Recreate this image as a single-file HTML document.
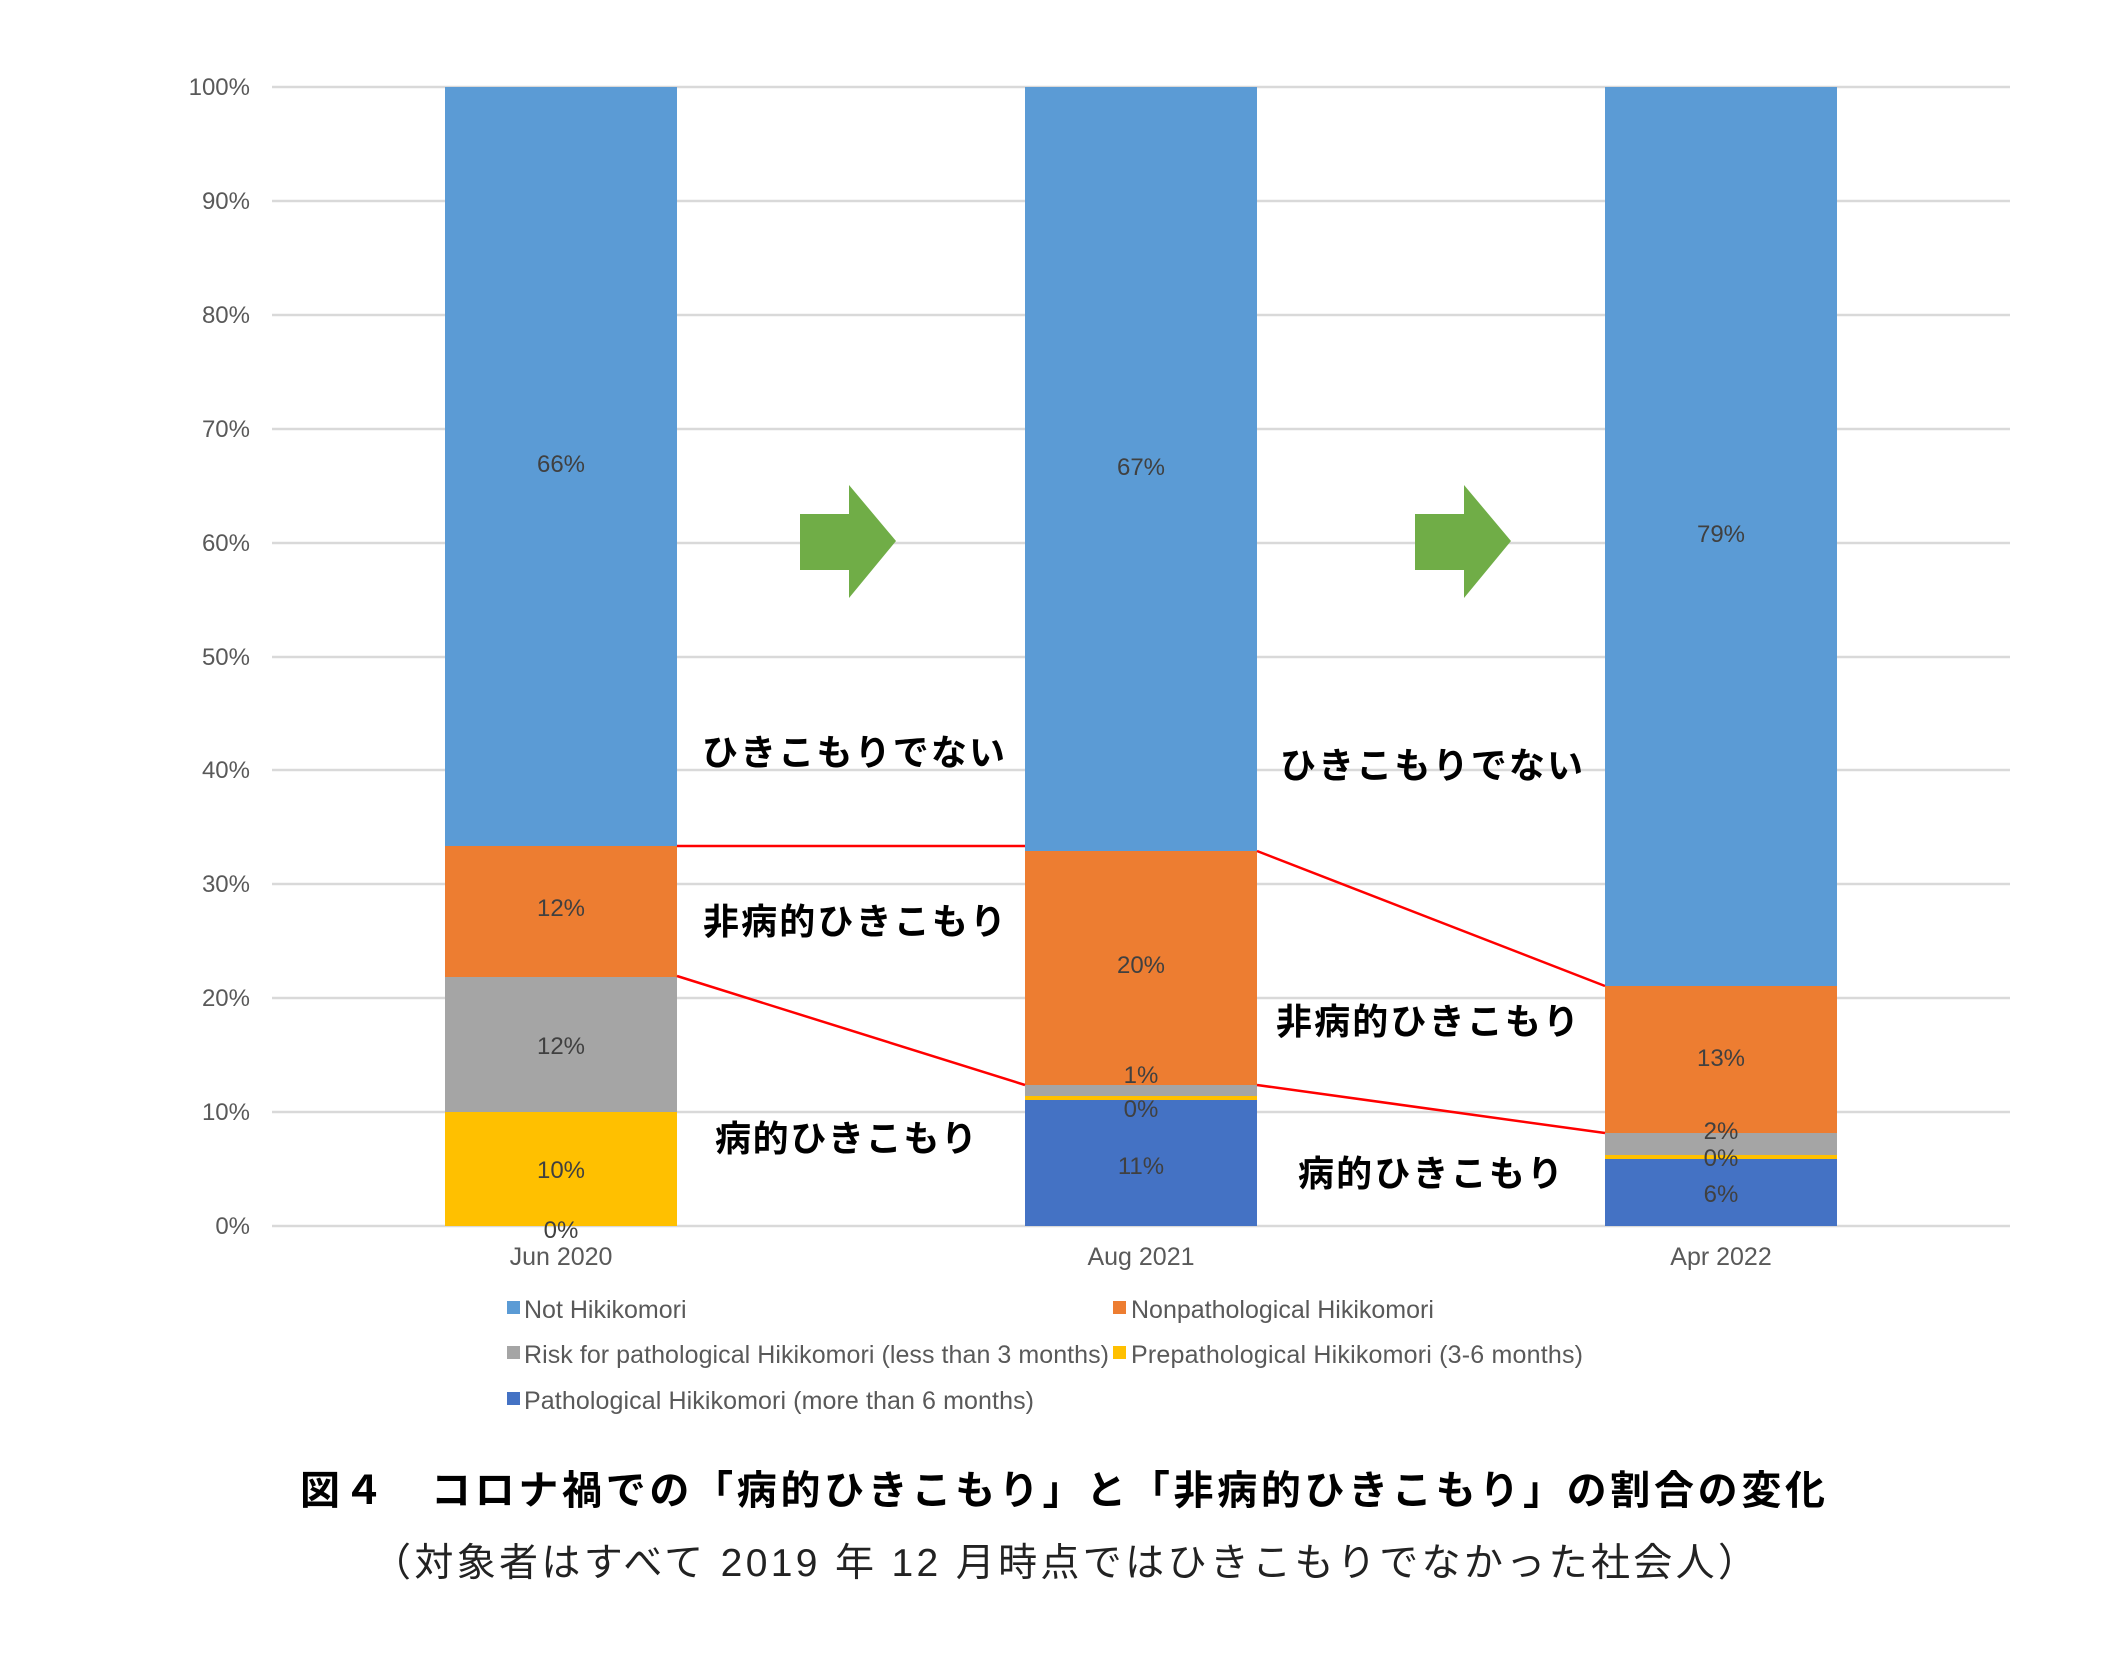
<!DOCTYPE html>
<html><head><meta charset="utf-8"><style>
html,body{margin:0;padding:0;background:#fff;}
svg{display:block;}
</style></head><body>
<svg width="2121" height="1675" viewBox="0 0 2121 1675" xmlns="http://www.w3.org/2000/svg">
<g stroke="#d9d9d9" stroke-width="2.5">
<line x1="272" y1="87" x2="2010" y2="87"/><line x1="272" y1="201" x2="2010" y2="201"/>
<line x1="272" y1="315" x2="2010" y2="315"/><line x1="272" y1="429" x2="2010" y2="429"/>
<line x1="272" y1="543" x2="2010" y2="543"/><line x1="272" y1="657" x2="2010" y2="657"/>
<line x1="272" y1="770" x2="2010" y2="770"/><line x1="272" y1="884" x2="2010" y2="884"/>
<line x1="272" y1="998" x2="2010" y2="998"/><line x1="272" y1="1112" x2="2010" y2="1112"/>
<line x1="272" y1="1226" x2="2010" y2="1226"/>
</g>
<g font-family="Liberation Sans, sans-serif" font-size="24" fill="#595959" text-anchor="end">
<text x="250" y="95">100%</text><text x="250" y="209">90%</text><text x="250" y="323">80%</text>
<text x="250" y="437">70%</text><text x="250" y="551">60%</text><text x="250" y="665">50%</text>
<text x="250" y="778">40%</text><text x="250" y="892">30%</text><text x="250" y="1006">20%</text>
<text x="250" y="1120">10%</text><text x="250" y="1234">0%</text>
</g>
<rect x="445" y="87" width="232" height="759" fill="#5B9BD5"/>
<rect x="445" y="846" width="232" height="131" fill="#ED7D31"/>
<rect x="445" y="977" width="232" height="135" fill="#A5A5A5"/>
<rect x="445" y="1112" width="232" height="114" fill="#FFC000"/>
<rect x="1025" y="87" width="232" height="764" fill="#5B9BD5"/>
<rect x="1025" y="851" width="232" height="234" fill="#ED7D31"/>
<rect x="1025" y="1085" width="232" height="11" fill="#A5A5A5"/>
<rect x="1025" y="1096" width="232" height="4" fill="#FFC000"/>
<rect x="1025" y="1100" width="232" height="126" fill="#4472C4"/>
<rect x="1605" y="87" width="232" height="899" fill="#5B9BD5"/>
<rect x="1605" y="986" width="232" height="147" fill="#ED7D31"/>
<rect x="1605" y="1133" width="232" height="22" fill="#A5A5A5"/>
<rect x="1605" y="1155" width="232" height="4" fill="#FFC000"/>
<rect x="1605" y="1159" width="232" height="67" fill="#4472C4"/>
<g stroke="#ff0000" stroke-width="2.5" fill="none">
<line x1="677" y1="846" x2="1025" y2="846"/>
<line x1="1257" y1="851" x2="1605" y2="986"/>
<line x1="677" y1="976" x2="1025" y2="1085"/>
<line x1="1257" y1="1085" x2="1605" y2="1133"/>
</g>
<polygon points="800,514 849,514 849,485 896,541 849,598 849,570 800,570" fill="#70AD47"/>
<polygon points="1415,514 1464,514 1464,485 1511,541 1464,598 1464,570 1415,570" fill="#70AD47"/>
<g font-family="Liberation Sans, sans-serif" font-size="24" fill="#404040" text-anchor="middle">
<text x="561" y="472">66%</text><text x="561" y="916">12%</text><text x="561" y="1054">12%</text>
<text x="561" y="1178">10%</text><text x="561" y="1238">0%</text>
<text x="1141" y="475">67%</text><text x="1141" y="973">20%</text><text x="1141" y="1083">1%</text>
<text x="1141" y="1117">0%</text><text x="1141" y="1174">11%</text>
<text x="1721" y="542">79%</text><text x="1721" y="1066">13%</text><text x="1721" y="1139">2%</text>
<text x="1721" y="1166">0%</text><text x="1721" y="1202">6%</text>
</g>
<g font-family="Liberation Sans, sans-serif" font-size="25" fill="#595959" text-anchor="middle">
<text x="561" y="1265">Jun 2020</text><text x="1141" y="1265">Aug 2021</text><text x="1721" y="1265">Apr 2022</text>
</g>
<g font-family="Liberation Sans, sans-serif" font-size="25" fill="#595959">
<rect x="507" y="1301" width="13" height="13" fill="#5B9BD5"/><text x="524" y="1318">Not Hikikomori</text>
<rect x="1113" y="1301" width="13" height="13" fill="#ED7D31"/><text x="1131" y="1318">Nonpathological Hikikomori</text>
<rect x="507" y="1346" width="13" height="13" fill="#A5A5A5"/><text x="524" y="1363" textLength="585">Risk for pathological Hikikomori (less than 3 months)</text>
<rect x="1113" y="1346" width="13" height="13" fill="#FFC000"/><text x="1131" y="1363" textLength="452">Prepathological Hikikomori (3-6 months)</text>
<rect x="507" y="1392" width="13" height="13" fill="#4472C4"/><text x="524" y="1409" textLength="510">Pathological Hikikomori (more than 6 months)</text>
</g>
<g font-family="Liberation Sans, 'Noto Sans CJK JP', sans-serif" font-size="36" font-weight="bold" fill="#000" letter-spacing="3">
<text x="702" y="765" textLength="306">ひきこもりでない</text>
<text x="1280" y="778" textLength="306">ひきこもりでない</text>
<text x="703" y="934" textLength="306">非病的ひきこもり</text>
<text x="1276" y="1034" textLength="306">非病的ひきこもり</text>
<text x="715" y="1151" textLength="265">病的ひきこもり</text>
<text x="1298" y="1186" textLength="268">病的ひきこもり</text>
</g>
<text x="300" y="1504" font-family="Liberation Sans, 'Noto Sans CJK JP', sans-serif" font-size="40" font-weight="bold" fill="#000" textLength="1525">図４　コロナ禍での「病的ひきこもり」と「非病的ひきこもり」の割合の変化</text>
<text x="372" y="1576" font-family="Liberation Sans, 'Noto Sans CJK JP', sans-serif" font-size="39" fill="#222" textLength="1385">（対象者はすべて 2019 年 12 月時点ではひきこもりでなかった社会人）</text>
</svg>
</body></html>
